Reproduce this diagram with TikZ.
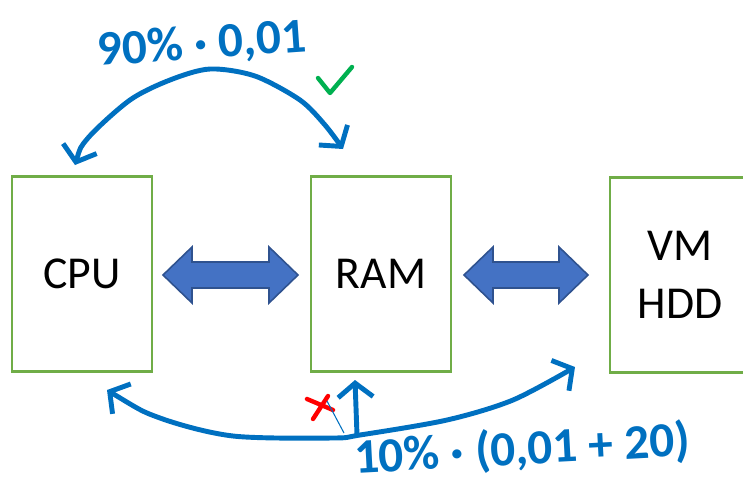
\documentclass[tikz,border=0pt]{standalone}
\usepackage{fontspec}
\setmainfont{Carlito}
\usetikzlibrary{arrows.meta}
\definecolor{pen}{HTML}{0070C0}
\definecolor{boxgreen}{HTML}{70AD47}
\definecolor{arrfill}{HTML}{4472C4}
\definecolor{arrline}{HTML}{2F528F}
\definecolor{okgreen}{HTML}{00B050}
\tikzset{
  unit/.style={draw=boxgreen, line width=1.4pt, minimum width=2.8cm,
    minimum height=3.9cm, align=center, font=\fontsize{26}{33}\selectfont},
  blockarrow/.style={fill=arrfill, draw=arrline, line width=0.9pt},
  ink/.style={pen, line width=2.8pt, line cap=round, line join=round},
  barbs/.style={{Straight Barb[length=2.8mm,width=7mm]}-{Straight Barb[length=2.8mm,width=7mm]}},
  note/.style={pen, inner sep=0pt, font=\bfseries\fontsize{28}{30}\selectfont},
}
\begin{document}
\begin{tikzpicture}[x=0.02cm, y=-0.02cm]
  \useasboundingbox (0,0) rectangle (743,484);
  % memory levels
  \node[unit] (cpu) at (82,274) {CPU};
  \node[unit] (ram) at (381,274) {RAM};
  \node[unit] (vm) at (680,275) {VM\\HDD};
  \foreach \a/\b in {163/298, 464/588}
    \draw[blockarrow] (\a,275) -- ++(29,-28) -- ++(0,15) -- (\b-29,262)
      -- ++(0,-15) -- (\b,275) -- ++(-29,28) -- ++(0,-15) -- (\a+29,288)
      -- ++(0,15) -- cycle;
  % hit: 90%
  \coordinate (h1) at (75,165); \coordinate (h2) at (343,149);
  \draw[ink, barbs] plot[smooth] coordinates {(h1) (88,138) (130,100)
    (170,80) (210,69) (255,76) (300,100) (325,125) (h2)};
  \node[note, rotate=4] (hit) at (202,45) {90\% · 0,01};
  \draw[okgreen, line width=2.5pt, line cap=round, line join=round]
    (318,78) -- (330,93) -- (352,67);
  % miss: 10%
  \coordinate (m1) at (107,390); \coordinate (m2) at (575,367);
  \draw[ink, barbs] plot[smooth] coordinates {(m1) (160,418) (233,436)
    (333,438) (360,435) (447,420) (513,400) (m2)};
  \coordinate (up) at (357,435); \coordinate (up2) at (355,380);
  \draw[ink, -{Straight Barb[length=2.8mm,width=7mm]}] (up) -- (up2);
  \node[note, rotate=3] (miss) at (522,450) {10\% · (0,01 + 20)};
  \draw[red, line width=2.5pt, line cap=round] (307,399) -- (333,410)
    (328,396) -- (313,419);
  \draw[pen, line width=0.6pt] (327,401) -- (344,433);
\end{tikzpicture}
\end{document}
